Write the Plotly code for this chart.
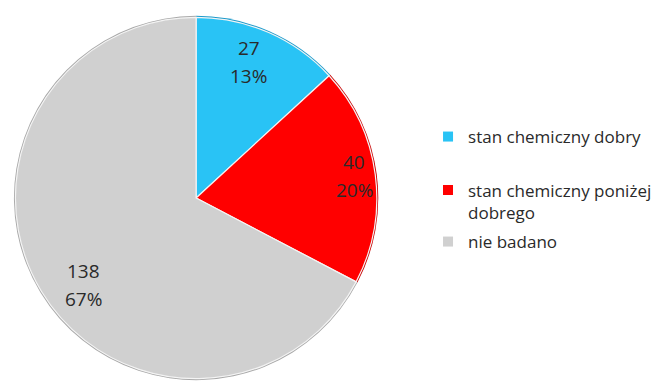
import plotly.graph_objects as go

labels = ["stan chemiczny dobry", "stan chemiczny poniżej<br>dobrego", "nie badano"]
values = [27, 40, 138]
colors = ["#29C3F5", "#FF0000", "#D0D0D0"]
rim_colors = ["#1C9ACB", "#C80000", "#A9A9A9"]

W, H = 657, 385
cx, cy, r = 197, 198, 183
FONT = "Open Sans, sans-serif"
TXT = "#2a2a2a"

total = sum(values)
value_text = [str(v) for v in values]
pct_text = [f"{round(100 * v / total)}%" for v in values]

label_xy = [(250, 62), (356, 176), (84, 285)]
legend_rows = [137, 201.5, 242]


def pie_domain(radius):
    return dict(x=[(cx - radius) / W, (cx + radius) / W],
                y=[(H - cy - radius) / H, (H - cy + radius) / H])


fig = go.Figure()

# darker rim underneath the slices
fig.add_trace(go.Pie(
    labels=labels, values=values, sort=False, direction="clockwise", rotation=0,
    marker=dict(colors=rim_colors, line=dict(width=0)),
    textinfo="none", hoverinfo="skip", showlegend=False,
    domain=pie_domain(r),
))

fig.add_trace(go.Pie(
    labels=labels,
    values=values,
    sort=False,
    direction="clockwise",
    rotation=0,
    marker=dict(colors=colors, line=dict(color="#f4f4f4", width=1.2)),
    textinfo="none",
    hoverinfo="label+value+percent",
    showlegend=False,
    domain=pie_domain(r - 1.5),
))

legend_ids = ["legend", "legend2", "legend3"]
for lab, col, lid in zip(labels, colors, legend_ids):
    fig.add_trace(go.Scatter(
        x=[None], y=[None], mode="markers", name=lab,
        marker=dict(symbol="square", size=10, color=col),
        legend=lid, showlegend=True,
    ))

for (lx, ly), vt, pt in zip(label_xy, value_text, pct_text):
    for dy, t in ((-14, vt), (14, pt)):
        fig.add_annotation(
            x=lx / W, y=(H - (ly + dy)) / H, xref="paper", yref="paper",
            text=t, showarrow=False, xanchor="center", yanchor="middle",
            font=dict(family=FONT, size=19, color=TXT),
        )

legend_style = dict(
    x=430 / W, xanchor="left", yanchor="middle",
    font=dict(family=FONT, size=17, color=TXT),
    itemwidth=30,
    valign="top",
    bgcolor="rgba(0,0,0,0)",
)

fig.update_layout(
    width=W, height=H,
    margin=dict(l=0, r=0, t=0, b=0),
    paper_bgcolor="white",
    plot_bgcolor="white",
    xaxis=dict(visible=False),
    yaxis=dict(visible=False),
    legend=dict(y=(H - legend_rows[0]) / H, **legend_style),
    legend2=dict(y=(H - legend_rows[1]) / H, **legend_style),
    legend3=dict(y=(H - legend_rows[2]) / H, **legend_style),
)

fig.write_html("out.html")
